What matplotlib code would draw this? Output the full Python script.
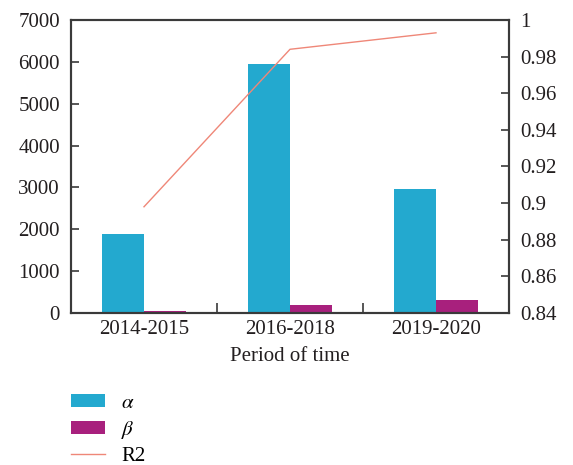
import matplotlib
matplotlib.use("Agg")
import matplotlib.pyplot as plt
from matplotlib.ticker import FixedLocator, NullFormatter
import numpy as np

plt.rcParams['font.family'] = ['Liberation Serif', 'DejaVu Serif']
plt.rcParams['mathtext.fontset'] = 'stix'

periods = ["2014-2015", "2016-2018", "2019-2020"]
alpha_vals = [1890, 5960, 2970]
beta_vals = [50, 190, 310]
r2_vals = [0.898, 0.984, 0.993]

left_ticks = [0, 1000, 2000, 3000, 4000, 5000, 6000, 7000]
right_ticks = [0.84, 0.86, 0.88, 0.9, 0.92, 0.94, 0.96, 0.98, 1.0]
right_labels = ["0.84", "0.86", "0.88", "0.9", "0.92", "0.94", "0.96", "0.98", "1"]

c_alpha = "#23a9cf"
c_beta = "#a8207d"
c_r2 = "#ef8778"
spine_c = "#3a3a3a"
text_c = "#231f20"
fs = 15

fig = plt.figure(figsize=(5.73, 4.65), dpi=100)
ax = fig.add_axes([0.1239, 0.3269, 0.7644, 0.6301])
ax2 = ax.twinx()

x = np.arange(len(periods))
w = 0.288
b1 = ax.bar(x - w / 2, alpha_vals, w, color=c_alpha, label=r"$\alpha$")
b2 = ax.bar(x + w / 2, beta_vals, w, color=c_beta, label=r"$\beta$")
ln, = ax2.plot(x, r2_vals, color=c_r2, lw=1.0, label="R2")

ax.set_xlim(-0.5, 2.5)
ax.set_ylim(0, 7000)
ax2.set_ylim(0.84, 1.0)

ax.set_xticks(x)
ax.set_xticklabels(periods)
ax.xaxis.set_minor_locator(FixedLocator([0.5, 1.5]))
ax.xaxis.set_minor_formatter(NullFormatter())
ax.tick_params(axis='x', which='major', length=0, labelsize=fs, colors=text_c, pad=5)
ax.tick_params(axis='x', which='minor', direction='in', length=7, width=1.2, color=spine_c)

ax.set_yticks(left_ticks)
ax.tick_params(axis='y', direction='in', length=6, width=1.2, color=spine_c,
               labelsize=fs, labelcolor=text_c, pad=8)
ax2.set_yticks(right_ticks)
ax2.set_yticklabels(right_labels)
ax2.tick_params(axis='y', direction='in', length=6, width=1.2, color=spine_c,
                labelsize=fs, labelcolor=text_c, pad=8)

for a in (ax, ax2):
    for s in a.spines.values():
        s.set_color(spine_c)
        s.set_linewidth(1.5)

ax.set_xlabel("Period of time", fontsize=fs, color=text_c, labelpad=6)

fig.legend(handles=[b1, b2, ln], loc='upper left', bbox_to_anchor=(0.124, 0.153),
           frameon=False, fontsize=fs, handlelength=1.65, handleheight=0.55,
           handletextpad=0.75, labelspacing=0.28, borderpad=0, borderaxespad=0)

fig.savefig("out.png", dpi=100)
